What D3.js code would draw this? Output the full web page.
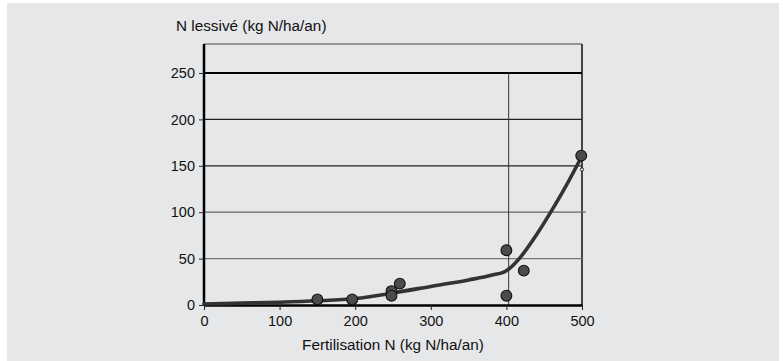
<!DOCTYPE html>
<html>
<head>
<meta charset="utf-8">
<script src="https://cdn.jsdelivr.net/npm/d3@7"></script>
<style>
body{margin:0;background:#fff;}
svg text{font-family:"Liberation Sans",Arial,sans-serif;fill:#111;}
</style>
</head>
<body>
<svg id="chart" width="783" height="361"></svg>
<script>
// measured points
var obs_x=[150,196,248,248,259,400,400,423,499];
var obs_y=[6,6,15,10,23,59,10,37,161];

// fitted curve
var fit_x=[0,50,100,150,200,250,300,350,380,400,405,420,440,460,480,497];
var fit_y=[1,2,3,4.5,7,13,20,27,32,37,40,53,76,102,130,156];

var x_ticks=[0,100,200,300,400,500];
var y_ticks=[0,50,100,150,200,250];
var x_label='Fertilisation N (kg N/ha/an)';
var y_label='N lessivé (kg N/ha/an)';
var vline_x=403;

var svg=d3.select('#chart');
svg.append('rect').attr('x',7).attr('y',3).attr('width',772).attr('height',358).attr('fill','#e6e7e9');

var marg_left=204, W0=378, marg_top=44;
var xScale=d3.scaleLinear().domain([0,500]).range([marg_left,marg_left+W0]);
var yScale=d3.scaleLinear().domain([0,250]).range([305,73]);

// frame top + right
svg.append('line').attr('x1',marg_left).attr('x2',marg_left+W0).attr('y1',marg_top).attr('y2',marg_top)
	.attr('stroke','#444').attr('stroke-width',1);
svg.append('line').attr('x1',marg_left+W0).attr('x2',marg_left+W0).attr('y1',marg_top).attr('y2',305)
	.attr('stroke','#111').attr('stroke-width',1.5);

// horizontal grid
var grid_col={50:'#777',100:'#666',150:'#222',200:'#222',250:'#000'};
svg.append('g').selectAll('line').data(y_ticks.filter(function(d){return d>0;})).enter().append('line')
	.attr('x1',marg_left).attr('x2',function(d){return d==100?xScale(505):xScale(500);})
	.attr('y1',function(d){return yScale(d);}).attr('y2',function(d){return yScale(d);})
	.attr('stroke',function(d){return grid_col[d];})
	.attr('stroke-width',function(d){return d==250?2.2:1.2;});

// vertical reference line
svg.append('line').attr('x1',xScale(vline_x)).attr('x2',xScale(vline_x))
	.attr('y1',yScale(250)).attr('y2',yScale(0)).attr('stroke','#333').attr('stroke-width',1);

// axes
var xAxis=d3.axisBottom(xScale).tickValues(x_ticks).tickSize(5).tickSizeOuter(0).tickPadding(6);
var gx=svg.append('g').attr('transform','translate(0,305)').call(xAxis);
gx.select('.domain').attr('stroke','#000').attr('stroke-width',2.5);
gx.selectAll('.tick line').attr('stroke','#222');
gx.selectAll('text').style('font-size','14.5px').attr('fill','#111');

var yAxis=d3.axisLeft(yScale).tickValues(y_ticks).tickSize(5).tickSizeOuter(0).tickPadding(4);
var gy=svg.append('g').attr('transform','translate('+marg_left+',0)').call(yAxis);
gy.select('.domain').attr('d','M0,'+marg_top+'V305').attr('stroke','#000').attr('stroke-width',2.5);
gy.selectAll('.tick line').attr('stroke','#222');
gy.selectAll('text').style('font-size','14.5px').attr('fill','#111');

// curve
var line=d3.line().x(function(d){return xScale(d[0]);}).y(function(d){return yScale(d[1]);}).curve(d3.curveMonotoneX);
svg.append('path').datum(d3.zip(fit_x,fit_y)).attr('d',line)
	.attr('fill','none').attr('stroke','#333').attr('stroke-width',3.6).attr('stroke-linecap','round');

// small marker at end of curve
svg.append('circle').attr('cx',xScale(500)).attr('cy',yScale(146)).attr('r',1.6)
	.attr('fill','#fff').attr('stroke','#222').attr('stroke-width',1);

// points
svg.append('g').selectAll('circle').data(d3.zip(obs_x,obs_y)).enter().append('circle')
	.attr('cx',function(d){return xScale(d[0]);}).attr('cy',function(d){return yScale(d[1]);})
	.attr('r',5.4).attr('fill','#4b4b4b').attr('stroke','#111').attr('stroke-width',1.1);

// axis titles
svg.append('text').attr('x',176).attr('y',31).style('font-size','15.3px').text(y_label);
svg.append('text').attr('x',xScale(250)).attr('y',350).attr('text-anchor','middle').style('font-size','15.3px').text(x_label);
</script>
</body>
</html>
